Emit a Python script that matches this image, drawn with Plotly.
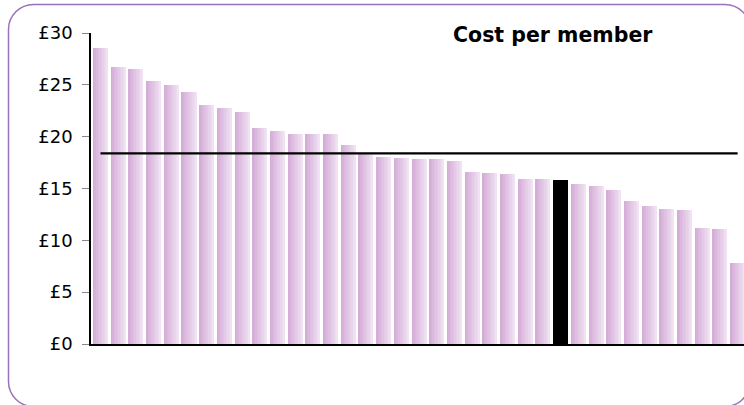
import plotly.graph_objects as go

# ---- data ----
members = [f"Org {i+1}" for i in range(37)]
cost = [28.6, 26.7, 26.5, 25.4, 25.0, 24.3, 23.1, 22.8, 22.4,
        20.8, 20.5, 20.3, 20.3, 20.3, 19.2, 18.4, 18.0, 17.9, 17.8, 17.8, 17.7, 16.6, 16.5,
        16.4, 15.9, 15.9, 15.8, 15.4, 15.2, 14.9, 13.8, 13.3, 13.0, 12.9, 11.2, 11.1, 7.8]
highlight_index = 26
average_cost = 18.38
y_ticks = [0, 5, 10, 15, 20, 25, 30]
title_text = "Cost per member"

# ---- layout geometry (pixels) ----
W, H = 744, 405
ML, MR, MT, MB = 91, 0, 33, 61
PW, PH = W - ML - MR, H - MT - MB


def px(x):
    return (x - ML) / PW


def py(y):
    return (H - MB - y) / PH


# gradient colours for bars (left darker -> right lighter)
c_left = (213, 172, 216)
c_right = (240, 226, 242)
N = 10
bar_w = 0.85

fig = go.Figure()
xs = list(range(len(cost)))
for k in range(N):
    t = k / (N - 1)
    col = "rgb(%d,%d,%d)" % tuple(round(a + (b - a) * t) for a, b in zip(c_left, c_right))
    colors = [("#000000" if i == highlight_index else col) for i in xs]
    off = -bar_w / 2 + k * bar_w / N
    fig.add_trace(go.Bar(
        x=xs, y=cost, width=bar_w - k * bar_w / N, offset=off,
        marker=dict(color=colors, line=dict(width=0)),
        hovertext=members, showlegend=False,
    ))

fig.add_trace(go.Scatter(
    x=[xs[0], xs[-1]], y=[average_cost, average_cost], mode="lines",
    line=dict(color="#000000", width=2.2), showlegend=False, hoverinfo="skip",
))

# rounded border
L, R, T, B, r = 8.5, 750, 4.5, 406.5, 25
k = 0.5523 * r


def P(x, y):
    return f"{px(x):.5f},{py(y):.5f}"


path = (f"M {P(L + r, T)} L {P(R - r, T)} C {P(R - r + k, T)} {P(R, T + r - k)} {P(R, T + r)} "
        f"L {P(R, B - r)} C {P(R, B - r + k)} {P(R - r + k, B)} {P(R - r, B)} "
        f"L {P(L + r, B)} C {P(L + r - k, B)} {P(L, B - r + k)} {P(L, B - r)} "
        f"L {P(L, T + r)} C {P(L, T + r - k)} {P(L + r - k, T)} {P(L + r, T)} Z")

fig.add_shape(type="path", path=path, xref="paper", yref="paper",
              line=dict(color="#9b72b8", width=1.5), layer="below")

fig.add_annotation(text="<b>%s</b>" % title_text, xref="paper", yref="paper",
                   x=px(552.5), y=py(35), xanchor="center", yanchor="middle",
                   showarrow=False, font=dict(family="DejaVu Sans", size=20.5, color="#000000"))

fig.update_layout(
    width=W, height=H, margin=dict(l=ML, r=MR, t=MT, b=MB),
    paper_bgcolor="white", plot_bgcolor="white",
    barmode="overlay", bargap=0,
    font=dict(family="DejaVu Sans", size=18, color="#000000"),
    xaxis=dict(range=[-0.537, 36.36], showticklabels=False, ticks="", showgrid=False,
               zeroline=False, showline=True, linecolor="#000000", linewidth=1.5),
    yaxis=dict(range=[0, 30], tickvals=y_ticks, ticktext=[f"£{v}" for v in y_ticks],
               ticks="outside", ticklen=7, tickcolor="#888888", tickwidth=1,
               ticklabelstandoff=6,
               showgrid=False, zeroline=False, showline=True, linecolor="#000000", linewidth=1.5),
)

fig.write_html("out.html")
